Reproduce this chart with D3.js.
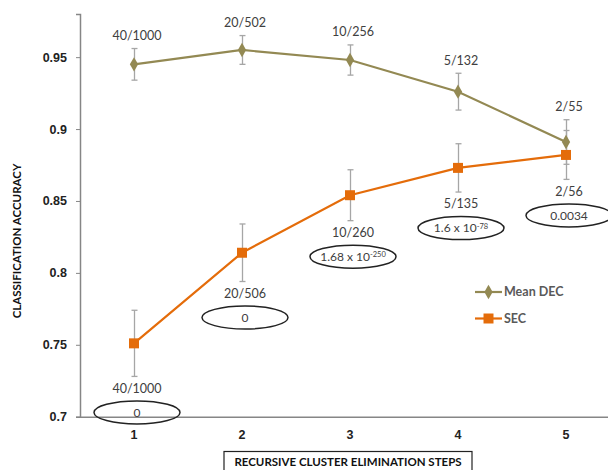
<!DOCTYPE html>
<html>
<head>
<meta charset="utf-8">
<script src="https://cdn.jsdelivr.net/npm/d3@7"></script>
<style>
  html, body { margin: 0; padding: 0; background: #fff; }
  svg { display: block; font-family: Lato, "Open Sans", sans-serif; }
</style>
</head>
<body>
<div id="chart"></div>
<script>
const steps = [1, 2, 3, 4, 5];
const meanDec = [0.945, 0.955, 0.948, 0.926, 0.891];
const meanDecErr = [0.011, 0.010, 0.0105, 0.0128, 0.0155];
const sec = [0.751, 0.814, 0.854, 0.873, 0.882];
const secErr = [0.023, 0.020, 0.0177, 0.0168, 0.017];
const meanDecLabels = ['40/1000', '20/502', '10/256', '5/132', '2/55'];
const secLabels = ['40/1000', '20/506', '10/260', '5/135', '2/56'];
const pBase = ['0', '0', '1.68 x 10', '1.6 x 10', '0.0034'];
const pExp = ['', '', '-250', '-78', ''];
const yTicks = [0.7, 0.75, 0.8, 0.85, 0.9, 0.95];
const seriesNames = ['Mean DEC', 'SEC'];

const W = 608, H = 470;
const colDec = '#938953', colSec = '#e46c0a', colErr = '#a6a6a6', colAxis = '#868686';

const svg = d3.select('#chart').append('svg')
    .attr('width', W)
    .attr('height', H);

// Scales
const x = d3.scaleBand()
    .domain(steps)
    .range([80, 620])
    .padding(0);
const cx = d => x(d) + x.bandwidth() / 2;

const y = d3.scaleLinear()
    .domain([0.7, 0.98])
    .range([416.7, 14]);

// Axes
const yAxisG = svg.append('g')
    .attr('transform', 'translate(80,0)')
    .call(d3.axisLeft(y).tickValues(yTicks).tickSize(4).tickPadding(9).tickFormat(d3.format('')));
yAxisG.select('.domain').attr('stroke', colAxis).attr('stroke-width', 1.5);
yAxisG.selectAll('line').attr('stroke', colAxis);
yAxisG.selectAll('text')
    .attr('fill', '#222')
    .style('font-size', '12.5px')
    .style('font-weight', 'bold');

const xAxisG = svg.append('g')
    .attr('transform', `translate(0,${y(0.7)})`)
    .call(d3.axisBottom(x).tickSize(0).tickPadding(13));
xAxisG.select('.domain').attr('stroke', colAxis).attr('stroke-width', 1.5);
xAxisG.selectAll('text')
    .attr('fill', '#222')
    .style('font-size', '12.5px')
    .style('font-weight', 'bold');

// Axis titles
svg.append('text')
    .attr('transform', 'translate(21,241) rotate(-90)')
    .attr('text-anchor', 'middle')
    .attr('fill', '#111')
    .style('font-size', '11.5px')
    .style('font-weight', 'bold')
    .text('CLASSIFICATION ACCURACY');

const xt = svg.append('g').attr('transform', 'translate(348,462)');
xt.append('rect')
    .attr('x', -124).attr('y', -10.5)
    .attr('width', 248).attr('height', 24)
    .attr('fill', 'none').attr('stroke', '#222').attr('stroke-width', 1.2);
xt.append('text')
    .attr('text-anchor', 'middle')
    .attr('dy', '0.35em')
    .attr('fill', '#111')
    .style('font-size', '11.5px')
    .style('font-weight', 'bold')
    .text('RECURSIVE CLUSTER ELIMINATION STEPS');

// Error bars
function errorBars(vals, errs) {
    const g = svg.append('g').attr('stroke', colErr).attr('stroke-width', 1.3);
    steps.forEach((s, i) => {
        const x0 = cx(s) + 0.5;
        const top = y(vals[i] + errs[i]), bot = y(vals[i] - errs[i]);
        g.append('line').attr('x1', x0).attr('x2', x0).attr('y1', top).attr('y2', bot);
        g.append('line').attr('x1', x0 - 3).attr('x2', x0 + 3).attr('y1', top).attr('y2', top);
        g.append('line').attr('x1', x0 - 3).attr('x2', x0 + 3).attr('y1', bot).attr('y2', bot);
    });
}
errorBars(meanDec, meanDecErr);
errorBars(sec, secErr);

const line = d3.line().x((d, i) => cx(steps[i])).y(d => y(d));

svg.append('path')
    .datum(meanDec)
    .attr('d', line)
    .attr('fill', 'none')
    .attr('stroke', colDec)
    .attr('stroke-width', 2.2);

svg.append('path')
    .datum(sec)
    .attr('d', line)
    .attr('fill', 'none')
    .attr('stroke', colSec)
    .attr('stroke-width', 2.2);

// Markers
const diamond = d3.symbol(d3.symbolDiamond, 60);
const square = d3.symbol(d3.symbolSquare, 100);

svg.append('g').selectAll('path')
    .data(meanDec)
    .join('path')
    .attr('d', diamond)
    .attr('transform', (d, i) => `translate(${cx(steps[i])},${y(d)})`)
    .attr('fill', colDec);

svg.append('g').selectAll('path')
    .data(sec)
    .join('path')
    .attr('d', square)
    .attr('transform', (d, i) => `translate(${cx(steps[i])},${y(d)})`)
    .attr('fill', colSec);

// Labels above Mean DEC
svg.append('g').selectAll('text')
    .data(meanDecLabels)
    .join('text')
    .attr('x', (d, i) => cx(steps[i]) + 3)
    .attr('y', (d, i) => y(meanDec[i] + meanDecErr[i]) - 13)
    .attr('dy', '0.35em')
    .attr('text-anchor', 'middle')
    .attr('fill', '#404040')
    .style('font-size', '12.5px')
    .text(d => d);

// Labels below SEC with p-value ellipses
steps.forEach((s, i) => {
    const lx = cx(s) + 3;
    const ly = y(sec[i] - secErr[i]) + 12;
    svg.append('text')
        .attr('x', lx).attr('y', ly)
        .attr('dy', '0.35em')
        .attr('text-anchor', 'middle')
        .attr('fill', '#404040')
        .style('font-size', '12.5px')
        .text(secLabels[i]);

    const eg = svg.append('g').attr('transform', `translate(${lx},${ly + 24})`);
    eg.append('ellipse')
        .attr('rx', 43).attr('ry', 11.5)
        .attr('fill', 'none')
        .attr('stroke', '#222')
        .attr('stroke-width', 1.5);
    const t = eg.append('text')
        .attr('text-anchor', 'middle')
        .attr('dy', '0.35em')
        .attr('fill', '#404040')
        .style('font-size', '12px');
    t.append('tspan').text(pBase[i]);
    if (pExp[i]) {
        t.append('tspan')
            .attr('dy', '-0.45em')
            .style('font-size', '7.5px')
            .text(pExp[i]);
    }
});

// Legend
const legend = svg.append('g').attr('transform', 'translate(475,292)');
seriesNames.forEach((name, i) => {
    const g = legend.append('g').attr('transform', `translate(0,${i * 26.5})`);
    g.append('line')
        .attr('x1', 0).attr('x2', 27)
        .attr('stroke', i === 0 ? colDec : colSec)
        .attr('stroke-width', 2.2);
    g.append('path')
        .attr('d', i === 0 ? diamond : square)
        .attr('transform', 'translate(13.5,0)')
        .attr('fill', i === 0 ? colDec : colSec);
    g.append('text')
        .attr('x', 29)
        .attr('dy', '0.35em')
        .attr('fill', '#595959')
        .style('font-size', '12.5px')
        .style('font-weight', 'bold')
        .text(name);
});
</script>
</body>
</html>
